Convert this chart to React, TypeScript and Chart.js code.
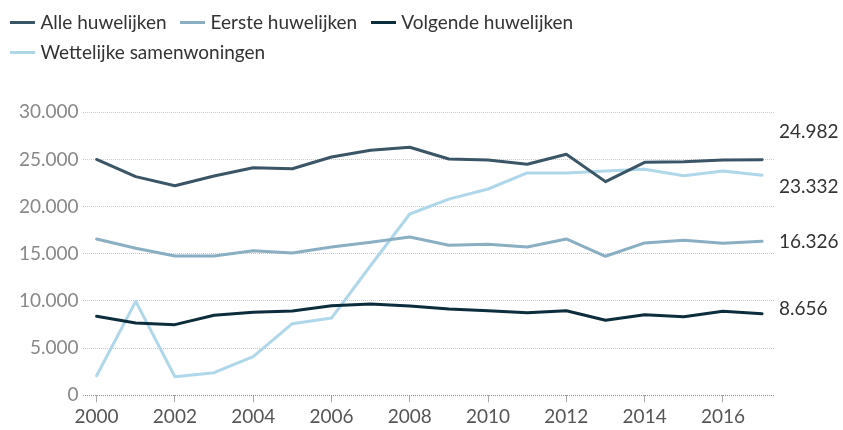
import React, { useEffect, useRef } from "react";
import { Chart, registerables } from "chart.js";

Chart.register(...registerables);

const years = [2000, 2001, 2002, 2003, 2004, 2005, 2006, 2007, 2008, 2009, 2010, 2011, 2012, 2013, 2014, 2015, 2016, 2017];
const tickYears = [2000, 2002, 2004, 2006, 2008, 2010, 2012, 2014, 2016];
const yTicks = [0, 5000, 10000, 15000, 20000, 25000, 30000];

const seriesNames = ["Alle huwelijken", "Eerste huwelijken", "Volgende huwelijken", "Wettelijke samenwoningen"];
const seriesColors = ["#3a5666", "#8aafc2", "#0c2d3b", "#afd7ea"];

const alleHuwelijken = [25000, 23180, 22220, 23250, 24130, 24020, 25260, 25970, 26290, 25050, 24940, 24490, 25550, 22650, 24700, 24770, 24940, 24982];
const eersteHuwelijken = [16570, 15580, 14770, 14770, 15330, 15090, 15720, 16220, 16780, 15900, 16010, 15720, 16570, 14740, 16150, 16430, 16110, 16326];
const volgendeHuwelijken = [8370, 7660, 7490, 8480, 8800, 8940, 9500, 9680, 9470, 9150, 8970, 8760, 8970, 7950, 8550, 8330, 8900, 8656];
const wettelijkeSamenwoningen = [2080, 9960, 1970, 2400, 4090, 7590, 8190, 13760, 19220, 20800, 21870, 23570, 23570, 23780, 23960, 23280, 23780, 23332];

const seriesValues = [alleHuwelijken, eersteHuwelijken, volgendeHuwelijken, wettelijkeSamenwoningen];

const fmt = (v: number) => String(Math.round(v)).replace(/\B(?=(\d{3})+(?!\d))/g, ".");

const FONT = "Lato, 'Noto Sans', sans-serif";

const endLabelsPlugin = {
  id: "endLabels",
  afterDatasetsDraw(chart: any) {
    const { ctx, chartArea } = chart;
    const yScale = chart.scales.y;
    const gap = 55;
    const items = chart.data.datasets.map((ds: any) => {
      const last = ds.data[ds.data.length - 1];
      return { text: fmt(last.y), y: yScale.getPixelForValue(last.y) - 5, color: "#333333" };
    });
    const sorted = [...items].sort((a, b) => a.y - b.y);
    // simple collision avoidance: push overlapping neighbours apart around their mean
    for (let iter = 0; iter < 20; iter++) {
      let moved = false;
      for (let i = 0; i < sorted.length - 1; i++) {
        const a = sorted[i];
        const b = sorted[i + 1];
        if (b.y - a.y < gap) {
          const mid = (a.y + b.y) / 2;
          a.y = mid - gap / 2;
          b.y = mid + gap / 2;
          moved = true;
        }
      }
      if (!moved) break;
    }
    ctx.save();
    ctx.font = `19px ${FONT}`;
    ctx.textAlign = "left";
    ctx.textBaseline = "middle";
    for (const it of sorted) {
      ctx.fillStyle = it.color;
      ctx.fillText(it.text, chartArea.right + 4, it.y);
    }
    ctx.restore();
  },
};

export default function App() {
  const canvasRef = useRef<HTMLCanvasElement | null>(null);

  useEffect(() => {
    if (!canvasRef.current) return;
    const chart = new Chart(canvasRef.current, {
      type: "line",
      data: {
        datasets: seriesNames.map((name, i) => ({
          label: name,
          data: years.map((yr, j) => ({ x: yr, y: seriesValues[i][j] })),
          borderColor: seriesColors[i],
          backgroundColor: seriesColors[i],
          borderWidth: 3,
          pointRadius: 0,
          pointHoverRadius: 0,
          tension: 0,
          borderJoinStyle: "round",
          borderCapStyle: "round",
          fill: false,
        })),
      },
      options: {
        responsive: false,
        animation: false,
        events: [],
        layout: { padding: { top: 112.3, right: 68, left: 0, bottom: 0 } },
        plugins: {
          legend: { display: false },
          tooltip: { enabled: false },
        },
        scales: {
          x: {
            type: "linear",
            min: 1999.64,
            max: 2017.33,
            afterBuildTicks: (scale: any) => {
              scale.ticks = tickYears.map((v) => ({ value: v }));
            },
            afterFit: (scale: any) => {
              scale.height = 34.7;
            },
            ticks: {
              autoSkip: false,
              maxRotation: 0,
              padding: 3,
              color: "#555555",
              font: { family: FONT, size: 19 },
              callback: (v: any) => String(v),
            },
            grid: {
              display: true,
              drawOnChartArea: false,
              drawTicks: true,
              tickLength: 7,
              tickColor: "#aaaaaa",
              tickWidth: 1,
            },
            border: { display: false },
          },
          y: {
            type: "linear",
            min: 0,
            max: 30000,
            afterBuildTicks: (scale: any) => {
              scale.ticks = yTicks.map((v) => ({ value: v }));
            },
            afterFit: (scale: any) => {
              scale.width = 82.5;
            },
            ticks: {
              padding: 4,
              color: "#888888",
              font: { family: FONT, size: 19 },
              callback: (v: any) => fmt(Number(v)),
            },
            grid: {
              drawTicks: false,
              lineWidth: 1,
              color: (c: any) => (c.tick && c.tick.value === 0 ? "#8c8c8c" : "#c8c8c8"),
            },
            border: { display: false, dash: [1, 1] },
          },
        },
      },
      plugins: [endLabelsPlugin],
    } as any);
    return () => chart.destroy();
  }, []);

  return (
    <div style={{ position: "absolute", left: 0, top: 0, width: 843, height: 430, background: "#ffffff", overflow: "hidden" }}>
      <canvas ref={canvasRef} width={843} height={430} style={{ position: "absolute", left: 0, top: 0, width: 843, height: 430 }} />
      <div
        style={{
          position: "absolute",
          left: 10,
          top: 7.3,
          width: 820,
          display: "flex",
          flexWrap: "wrap",
          fontFamily: FONT,
          fontSize: 19,
          lineHeight: "30px",
          color: "#333333",
        }}
      >
        {seriesNames.map((name, i) => (
          <div key={name} style={{ display: "flex", alignItems: "center", marginRight: 13.5, height: 30 }}>
            <span style={{ display: "inline-block", width: 25, height: 3, background: seriesColors[i], marginRight: 5.5 }} />
            <span style={{ whiteSpace: "nowrap" }}>{name}</span>
          </div>
        ))}
      </div>
    </div>
  );
}
